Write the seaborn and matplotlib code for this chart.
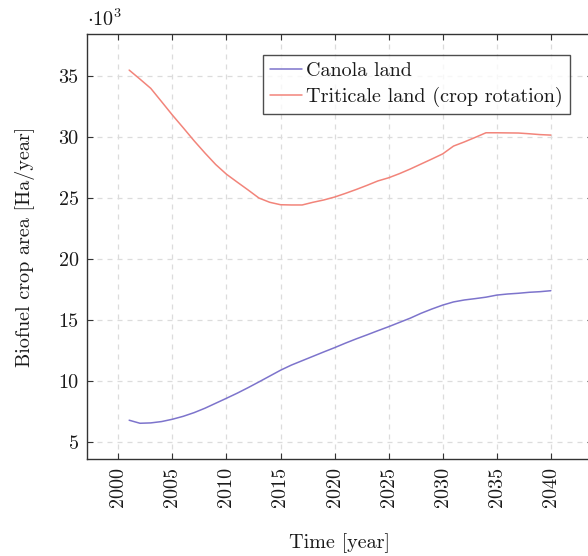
import numpy as np
import pandas as pd
import matplotlib
matplotlib.use("Agg")
import matplotlib.pyplot as plt
import seaborn as sns

# ---- data (thousands of Ha/year) ----
years = list(range(2001, 2041))
canola = [6.78, 6.53, 6.56, 6.67, 6.86, 7.10, 7.40, 7.76, 8.17, 8.58,
          9.00, 9.45, 9.92, 10.40, 10.88, 11.30, 11.66, 12.02, 12.38, 12.73,
          13.10, 13.45, 13.78, 14.12, 14.45, 14.80, 15.15, 15.55, 15.90, 16.22,
          16.48, 16.64, 16.75, 16.87, 17.04, 17.13, 17.19, 17.27, 17.32, 17.40]
triticale = [35.49, 34.75, 33.99, 32.90, 31.80, 30.76, 29.70, 28.70, 27.75, 26.95,
             26.30, 25.66, 25.00, 24.65, 24.45, 24.43, 24.43, 24.65, 24.84, 25.08,
             25.38, 25.70, 26.04, 26.40, 26.66, 27.00, 27.38, 27.79, 28.20, 28.62,
             29.26, 29.60, 29.97, 30.35, 30.35, 30.34, 30.33, 30.27, 30.20, 30.16]
series_names = ["Canola land", "Triticale land (crop rotation)"]
series_colors = ["#7d74cc", "#f2847a"]
x_ticks = [2000, 2005, 2010, 2015, 2020, 2025, 2030, 2035, 2040]
y_ticks = [5, 10, 15, 20, 25, 30, 35]

df = pd.DataFrame({
    "year": years * 2,
    "value": canola + triticale,
    "series": [series_names[0]] * len(years) + [series_names[1]] * len(years),
})

sns.set_theme(style="white")
plt.rcParams["font.family"] = ["cmr10", "DejaVu Serif"]
plt.rcParams["mathtext.fontset"] = "cm"
plt.rcParams["axes.formatter.use_mathtext"] = True
plt.rcParams["axes.unicode_minus"] = False

fig = plt.figure(figsize=(5.88, 5.56), dpi=100)
ax = fig.add_axes([87 / 588, 1 - 459 / 556, 506 / 588, 425 / 556])

sns.lineplot(data=df, x="year", y="value", hue="series", hue_order=series_names,
             palette=series_colors, linewidth=1.1, ax=ax, legend=True)

ax.set_xlim(1997.1, 2043.9)
ax.set_ylim(3.6, 38.45)
ax.set_xticks(x_ticks)
ax.set_xticklabels([str(t) for t in x_ticks], rotation=90, fontsize=14.5)
ax.set_yticks(y_ticks)
ax.set_yticklabels([str(t) for t in y_ticks], fontsize=14.5)

ax.grid(True, color="#dcdcdc", linestyle=(0, (4, 4)), linewidth=0.9)
ax.set_axisbelow(True)
for s in ax.spines.values():
    s.set_color("#333333")
    s.set_linewidth(1.0)
    s.set_visible(True)
ax.tick_params(direction="in", length=4, width=0.8, color="#333333",
               top=True, right=True, bottom=True, left=True, pad=6,
               labelcolor="#1a1a1a")

ax.set_xlabel("Time [year]", fontsize=14.5, color="#1a1a1a")
ax.set_ylabel("Biofuel crop area [Ha/year]", fontsize=14.5, color="#1a1a1a")
ax.xaxis.set_label_coords(0.5, -0.198)
ax.xaxis.label.set_va("center")
ax.yaxis.set_label_coords(-0.1225, 0.5)
ax.yaxis.label.set_va("center")

ax.text(0.0, 1.035, r"$\cdot 10^3$", transform=ax.transAxes, fontsize=14.5,
        ha="left", va="center", color="#1a1a1a")

leg = ax.legend(loc="upper right", bbox_to_anchor=(0.9545, 0.9506),
                borderaxespad=0, fontsize=14.5, frameon=True, fancybox=False,
                handlelength=1.6, handletextpad=0.2, labelspacing=0.35,
                borderpad=0.35)
leg.get_frame().set_edgecolor("#222222")
leg.get_frame().set_linewidth(1.0)
for t in leg.get_texts():
    t.set_color("#1a1a1a")

fig.savefig("out.png", dpi=100)
